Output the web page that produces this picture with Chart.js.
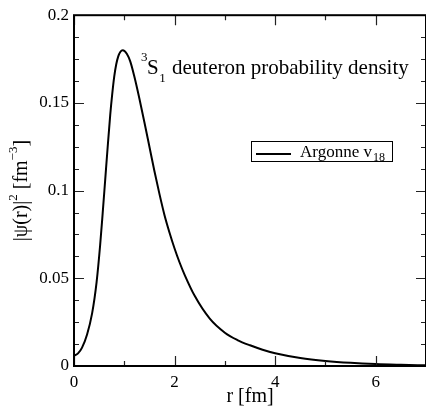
<!DOCTYPE html>
<html>
<head>
<meta charset="utf-8">
<script src="https://cdn.jsdelivr.net/npm/chart.js@4.4.1/dist/chart.umd.min.js"></script>
<style>
  html, body { margin: 0; padding: 0; background: #ffffff; }
  #wrap { width: 426px; height: 407px; }
</style>
</head>
<body>
<div id="wrap"><canvas id="c" width="426" height="407"></canvas></div>
<script>
// ---- data ----
const rValues = [0, 0.08, 0.16, 0.26, 0.36, 0.45, 0.52, 0.57, 0.62, 0.67, 0.72, 0.76, 0.80,
  0.84, 0.88, 0.92, 0.97, 1.05, 1.12, 1.20, 1.30, 1.40, 1.50, 1.60, 1.70, 1.80, 1.90, 2.00,
  2.10, 2.20, 2.40, 2.70, 3.00, 3.25, 3.50, 3.75, 4.00, 4.50, 5.00, 5.50, 6.00, 6.50, 7.00];
const densityValues = [0.0058, 0.0072, 0.0105, 0.0180, 0.0300, 0.0480, 0.0690, 0.0870, 0.1060,
  0.1250, 0.1430, 0.1550, 0.1650, 0.1720, 0.1765, 0.1790, 0.1800, 0.1780, 0.1735, 0.1650,
  0.1525, 0.1390, 0.1250, 0.1110, 0.0980, 0.0860, 0.0760, 0.0670, 0.0590, 0.0520, 0.0400,
  0.0270, 0.0190, 0.0148, 0.0118, 0.0093, 0.0073, 0.0046, 0.0029, 0.0018, 0.0011, 0.0007,
  0.0004];
const seriesName = "Argonne v";
const seriesSub = "18";
const xMajorTicks = [0, 2, 4, 6];
const xMinorTicks = [1, 3, 5, 7];
const yMajorTicks = [0, 0.05, 0.1, 0.15, 0.2];
const yMinorTicks = [0.0125, 0.025, 0.0375, 0.0625, 0.075, 0.0875, 0.1125, 0.125, 0.1375,
  0.1625, 0.175, 0.1875];
const xTitle = "r [fm]";
const annotationText = "deuteron probability density";

const SERIF = "'Liberation Serif', 'DejaVu Serif', serif";

const points = rValues.map((r, i) => ({ x: r, y: densityValues[i] }));

const decorPlugin = {
  id: 'decor',
  afterDraw(chart) {
    const ctx = chart.ctx;
    const a = chart.chartArea;
    const xs = chart.scales.x, ys = chart.scales.y;
    ctx.save();
    // inward tick marks, all four sides
    ctx.strokeStyle = '#222';
    ctx.lineWidth = 1.2;
    const tickX = (v, len) => {
      const p = Math.round(xs.getPixelForValue(v)) + 0.5;
      ctx.beginPath();
      ctx.moveTo(p, a.bottom); ctx.lineTo(p, a.bottom - len);
      ctx.moveTo(p, a.top); ctx.lineTo(p, a.top + len);
      ctx.stroke();
    };
    const tickY = (v, len) => {
      const p = Math.round(ys.getPixelForValue(v)) + 0.5;
      ctx.beginPath();
      ctx.moveTo(a.left, p); ctx.lineTo(a.left + len, p);
      ctx.moveTo(a.right, p); ctx.lineTo(a.right - len, p);
      ctx.stroke();
    };
    xMajorTicks.forEach(v => tickX(v, 10));
    xMinorTicks.forEach(v => tickX(v, 5));
    yMajorTicks.forEach(v => tickY(v, 10));
    yMinorTicks.forEach(v => tickY(v, 5));
    // frame
    ctx.strokeStyle = '#000';
    ctx.lineWidth = 2;
    ctx.strokeRect(a.left, a.top, a.right - a.left, a.bottom - a.top);

    ctx.fillStyle = '#000';
    ctx.textAlign = 'left';
    ctx.textBaseline = 'alphabetic';
    // x title
    ctx.font = '20px ' + SERIF;
    const xw = ctx.measureText(xTitle).width;
    ctx.fillText(xTitle, (a.left + a.right) / 2 - xw / 2, 402);

    // y title, rotated, with superscripts
    ctx.save();
    ctx.translate(27, (a.top + a.bottom) / 2);
    ctx.rotate(-Math.PI / 2);
    const parts = [
      { t: "|\u03C8(r)|", f: 20, dy: 0 },
      { t: "2", f: 13, dy: -10 },
      { t: " [fm", f: 20, dy: 0 },
      { t: "\u22123", f: 13, dy: -10 },
      { t: "]", f: 20, dy: 0 }
    ];
    let total = 0;
    parts.forEach(p => { ctx.font = p.f + 'px ' + SERIF; p.w = ctx.measureText(p.t).width; total += p.w; });
    let cx = -total / 2;
    parts.forEach(p => { ctx.font = p.f + 'px ' + SERIF; ctx.fillText(p.t, cx, p.dy); cx += p.w; });
    ctx.restore();

    // annotation  3S1 deuteron probability density
    ctx.font = '13px ' + SERIF;
    ctx.fillText("3", 141, 61);
    ctx.font = '21px ' + SERIF;
    ctx.fillText("S", 147, 74);
    const sw = ctx.measureText("S").width;
    ctx.font = '13px ' + SERIF;
    ctx.fillText("1", 147 + sw + 0.5, 82);
    ctx.font = '21px ' + SERIF;
    ctx.fillText(annotationText, 172, 74);

    // legend box
    ctx.lineWidth = 1;
    ctx.strokeStyle = '#000';
    ctx.strokeRect(251.5, 141.5, 141, 20);
    const ds = chart.data.datasets[0];
    ctx.strokeStyle = ds.borderColor;
    ctx.lineWidth = ds.borderWidth;
    ctx.beginPath();
    ctx.moveTo(256, 154); ctx.lineTo(291, 154);
    ctx.stroke();
    ctx.font = '17px ' + SERIF;
    ctx.fillText(seriesName, 300, 157);
    const lw = ctx.measureText(seriesName).width;
    ctx.font = '12px ' + SERIF;
    ctx.fillText(seriesSub, 300 + lw + 1, 161);
    ctx.restore();
  }
};

new Chart(document.getElementById('c'), {
  type: 'scatter',
  data: {
    datasets: [{
      label: seriesName + seriesSub,
      data: points,
      showLine: true,
      borderColor: '#000000',
      borderWidth: 2,
      pointRadius: 0,
      cubicInterpolationMode: 'monotone',
      fill: false
    }]
  },
  options: {
    responsive: false,
    animation: false,
    devicePixelRatio: 1,
    layout: { padding: { top: 15, right: 0, left: 0, bottom: 0 } },
    plugins: { legend: { display: false }, tooltip: { enabled: false } },
    scales: {
      x: {
        type: 'linear', min: 0, max: 7,
        afterFit: s => { s.height = 41; },
        grid: { display: false, drawTicks: false },
        border: { display: false },
        ticks: {
          stepSize: 2, includeBounds: false, maxRotation: 0, padding: 6,
          color: '#000', font: { family: SERIF, size: 17 },
          callback: v => String(v)
        }
      },
      y: {
        type: 'linear', min: 0, max: 0.2,
        afterFit: s => { s.width = 74; },
        grid: { display: false, drawTicks: false },
        border: { display: false },
        ticks: {
          stepSize: 0.05, padding: 5,
          color: '#000', font: { family: SERIF, size: 17 },
          callback: v => String(+Number(v).toFixed(4))
        }
      }
    }
  },
  plugins: [decorPlugin]
});
</script>
</body>
</html>
